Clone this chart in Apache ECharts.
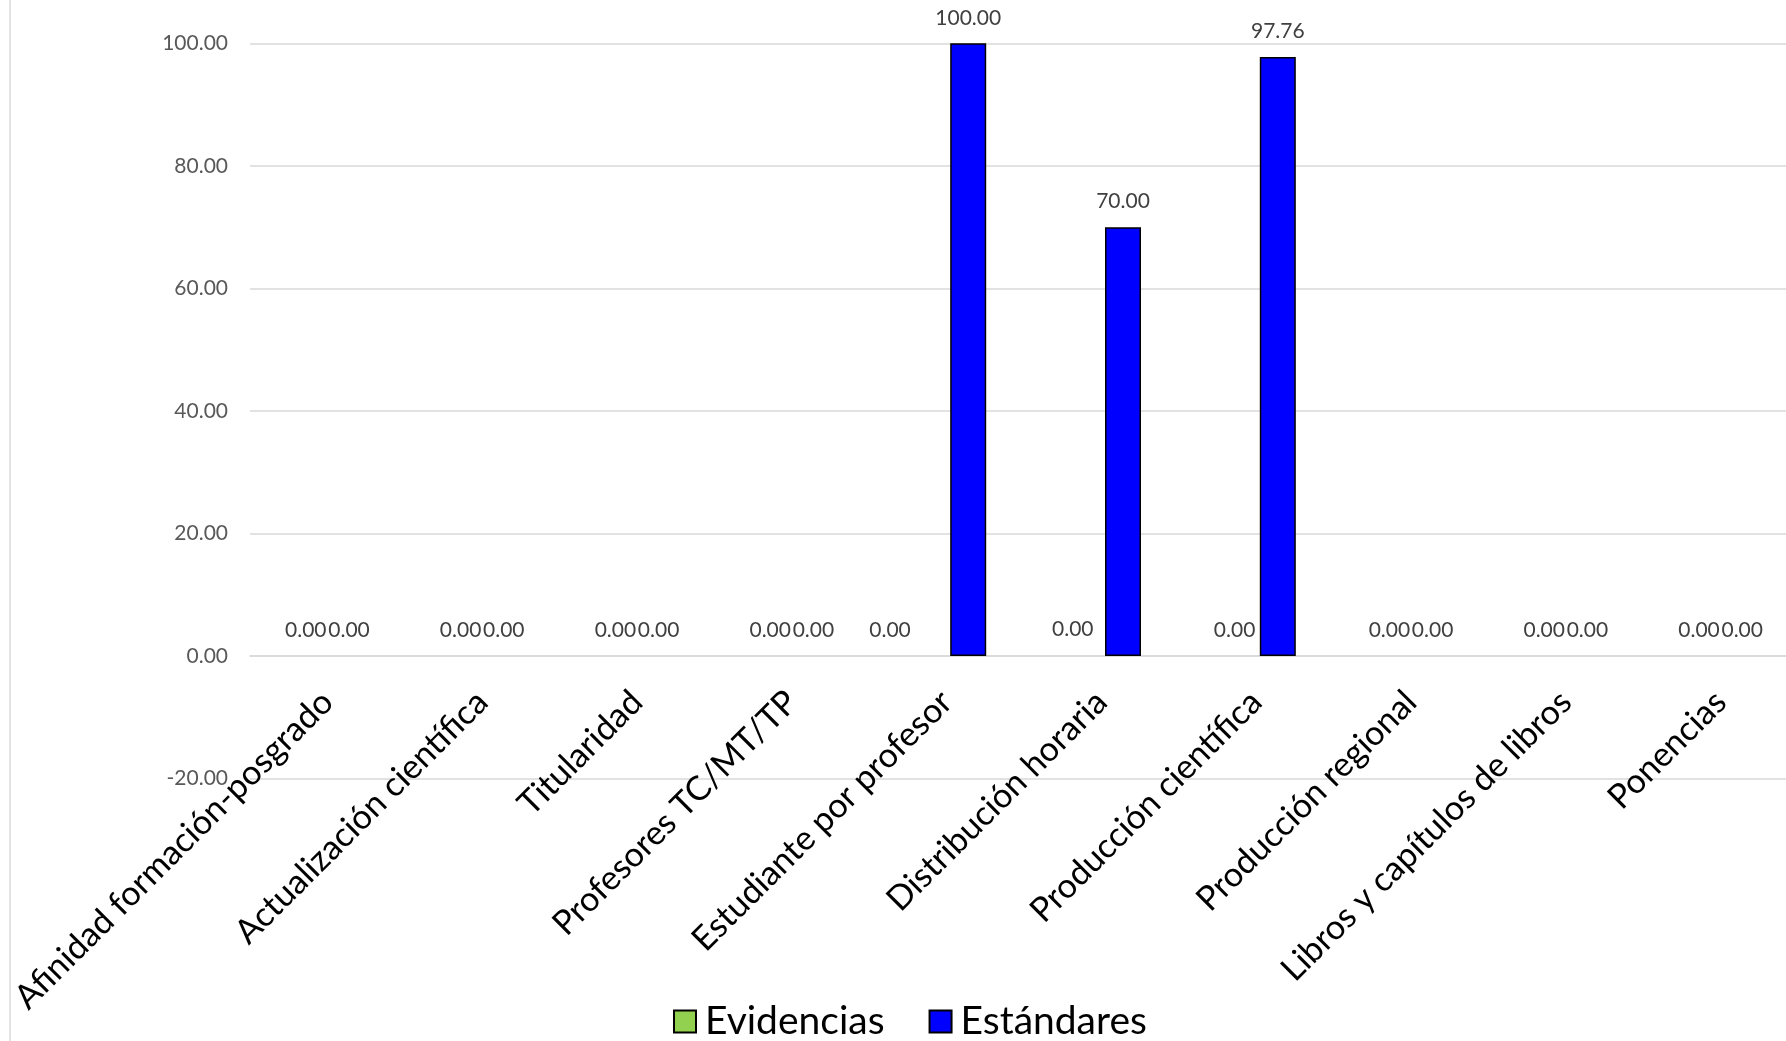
<!DOCTYPE html>
<html>
<head>
<meta charset="utf-8">
<script src="https://cdn.jsdelivr.net/npm/echarts@6/dist/echarts.min.js"></script>
<style>
html,body{margin:0;padding:0;background:#fff;}
#chart{width:1786px;height:1041px;}
</style>
</head>
<body>
<div id="chart"></div>
<script>
const categories = [
  "Afinidad formación-posgrado",
  "Actualización científica",
  "Titularidad",
  "Profesores TC/MT/TP",
  "Estudiante por profesor",
  "Distribución horaria",
  "Producción científica",
  "Producción regional",
  "Libros y capítulos de libros",
  "Ponencias"
];
const evidencias = [0, 0, 0, 0, 0, 0, 0, 0, 0, 0];
const estandares = [0, 0, 0, 0, 100, 70, 97.76, 0, 0, 0];
const yTicks = { min: -20, max: 100, interval: 20 };

// label nudges (style only) for Evidencias labels that were moved in the original
const evLabelShift = { 4: [-35, 0], 5: [-7, -1], 6: [0, 0] };

const FONT = 'Lato';
const fmt = v => Number(v).toFixed(2);

function buildData(values, shifts) {
  return values.map((v, i) => {
    const item = { value: v };
    if (v === 0) item.itemStyle = { borderWidth: 0 };
    if (shifts && shifts[i]) item.label = { offset: shifts[i] };
    return item;
  });
}

const chart = echarts.init(document.getElementById('chart'), null, { renderer: 'canvas' });
chart.setOption({
  animation: false,
  backgroundColor: '#ffffff',
  graphic: [{
    type: 'line',
    shape: { x1: 10, y1: 0, x2: 10, y2: 1041 },
    style: { stroke: '#d9d9d9', lineWidth: 1.5 }
  }],
  grid: { left: 250, top: 43.3, width: 1548, height: 735.3, containLabel: false, outerBoundsMode: 'none' },
  legend: {
    left: 668,
    top: 997,
    itemWidth: 22,
    itemHeight: 22,
    itemGap: 44,
    icon: 'rect',
    textStyle: { fontFamily: FONT, fontSize: 39, color: '#000', padding: [0, 0, 0, 4] },
    data: ['Evidencias', 'Estándares']
  },
  xAxis: {
    type: 'category',
    data: categories,
    axisLine: { onZero: true, lineStyle: { color: '#d9d9d9', width: 1.5 } },
    axisTick: { show: false },
    axisLabel: {
      interval: 0,
      rotate: 45,
      margin: -82,
      fontFamily: FONT,
      fontSize: 34,
      color: '#000'
    }
  },
  yAxis: {
    type: 'value',
    min: yTicks.min,
    max: yTicks.max,
    interval: yTicks.interval,
    axisLine: { show: false },
    axisTick: { show: false },
    splitLine: { lineStyle: { color: '#d9d9d9', width: 1.5 } },
    axisLabel: {
      margin: 22,
      formatter: v => fmt(v),
      fontFamily: FONT,
      fontSize: 21,
      color: '#595959'
    }
  },
  series: [
    {
      name: 'Evidencias',
      type: 'bar',
      data: buildData(evidencias, evLabelShift),
      barWidth: 36,
      barGap: '20%',
      itemStyle: { color: '#92d050', borderColor: '#000', borderWidth: 1.5 },
      label: {
        show: true, position: 'top', distance: 15,
        formatter: p => fmt(p.value),
        fontFamily: FONT, fontSize: 21, color: '#404040'
      }
    },
    {
      name: 'Estándares',
      type: 'bar',
      data: buildData(estandares),
      barWidth: 36,
      barGap: '20%',
      itemStyle: { color: '#0000ff', borderColor: '#000', borderWidth: 1.5 },
      label: {
        show: true, position: 'top', distance: 15,
        formatter: p => fmt(p.value),
        fontFamily: FONT, fontSize: 21, color: '#404040'
      }
    }
  ]
});
</script>
</body>
</html>
